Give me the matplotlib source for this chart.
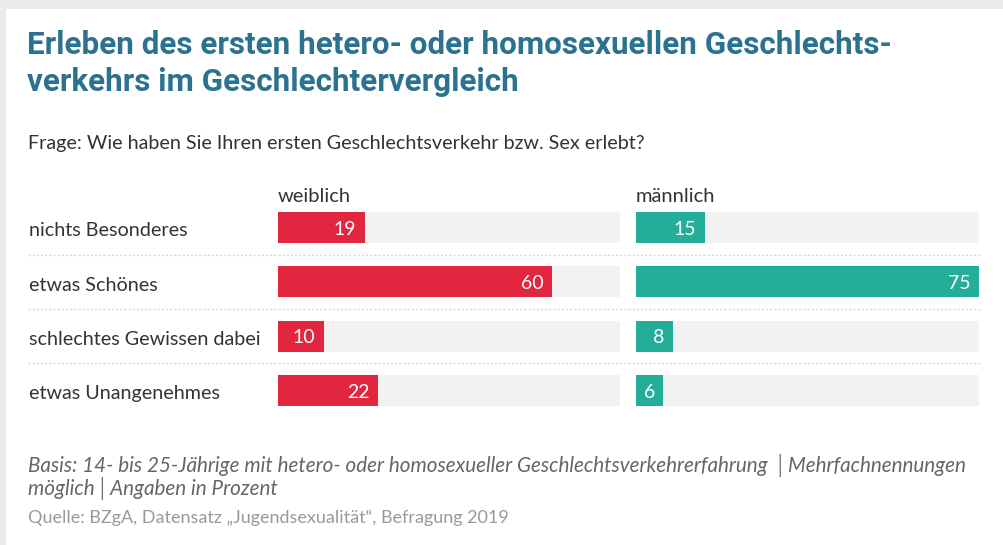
import matplotlib
matplotlib.use("Agg")
import matplotlib.pyplot as plt
from matplotlib.patches import Rectangle
from matplotlib.transforms import blended_transform_factory

categories = ["nichts Besonderes", "etwas Schönes", "schlechtes Gewissen dabei", "etwas Unangenehmes"]
weiblich = [19, 60, 10, 22]
maennlich = [15, 75, 8, 6]
track_max = 75
group_labels = ["weiblich", "männlich"]

title = "Erleben des ersten hetero- oder homosexuellen Geschlechts-\nverkehrs im Geschlechtervergleich"
question = "Frage: Wie haben Sie Ihren ersten Geschlechtsverkehr bzw. Sex erlebt?"
note1 = "Basis: 14- bis 25-Jährige mit hetero- oder homosexueller Geschlechtsverkehrerfahrung │Mehrfachnennungen"
note2 = "möglich│Angaben in Prozent"
source = "Quelle: BZgA, Datensatz „Jugendsexualität“, Befragung 2019"

W, H = 1004, 545
fig = plt.figure(figsize=(W / 100, H / 100), dpi=100)
fig.patch.set_facecolor("#ebebeb")
# card
fig.add_artist(Rectangle((6 / W, 0), 1, 1 - 9 / H, transform=fig.transFigure,
                         facecolor="white", edgecolor="none", zorder=0))

FONT = "Lato"
RED = "#e3263f"
TEAL = "#22ae98"
TRACK = "#f2f2f2"

def fx(px):
    return px / W

def fy(py):
    return 1 - py / H

# axes: row index -0.5 at y=200.35, 3.5 at y=417.6
top_px, bot_px = 200.35, 417.6
ax_b = fy(bot_px)
ax_h = (bot_px - top_px) / H
axL = fig.add_axes([fx(278), ax_b, (620 - 278) / W, ax_h])
axR = fig.add_axes([fx(636), ax_b, (979 - 636) / W, ax_h])

ypos = list(range(len(categories)))
for ax, vals, col, lab, x0 in [(axL, weiblich, RED, group_labels[0], 278),
                               (axR, maennlich, TEAL, group_labels[1], 636)]:
    ax.barh(ypos, [track_max] * len(ypos), height=0.57, color=TRACK, zorder=1)
    ax.barh(ypos, vals, height=0.57, color=col, zorder=2)
    for y, v in zip(ypos, vals):
        ax.text(v - 1.8, y + 0.03, str(v), ha="right", va="center", color="white",
                fontsize=14, family=FONT, zorder=3)
    ax.set_xlim(0, track_max)
    ax.set_ylim(3.5, -0.5)
    ax.axis("off")
    fig.text(fx(x0), fy(197), lab, ha="left", va="center",
             fontsize=14.5, family=FONT, color="#333333")

trans = blended_transform_factory(fig.transFigure, axL.transData)
for y in [0.5, 1.5, 2.5]:
    axL.plot([fx(28), fx(980)], [y, y], transform=trans, color="#d8d8d8",
             lw=1.0, ls=(0, (1.5, 1.5)), clip_on=False, zorder=0)
for y, c in zip(ypos, categories):
    axL.text(fx(29), y + 0.06, c, transform=trans, ha="left", va="center",
             fontsize=14.2, family=FONT, color="#333333")

fig.text(fx(27), fy(45), title.split("\n")[0], ha="left", va="center", fontsize=22.6,
         fontweight="bold", family="Roboto", color="#2b7290")
fig.text(fx(27), fy(82), title.split("\n")[1], ha="left", va="center", fontsize=22.6,
         fontweight="bold", family="Roboto", color="#2b7290")
fig.text(fx(28), fy(144), question, ha="left", va="center", fontsize=14.2,
         family=FONT, color="#333333")
fig.text(fx(28), fy(465), note1, ha="left", va="center", fontsize=14.85,
         family=FONT, style="italic", color="#666666")
fig.text(fx(28), fy(488), note2, ha="left", va="center", fontsize=14.85,
         family=FONT, style="italic", color="#666666")
fig.text(fx(28), fy(518), source, ha="left", va="center", fontsize=13,
         family=FONT, color="#999999")

fig.savefig("out.png", dpi=100, facecolor=fig.get_facecolor())
